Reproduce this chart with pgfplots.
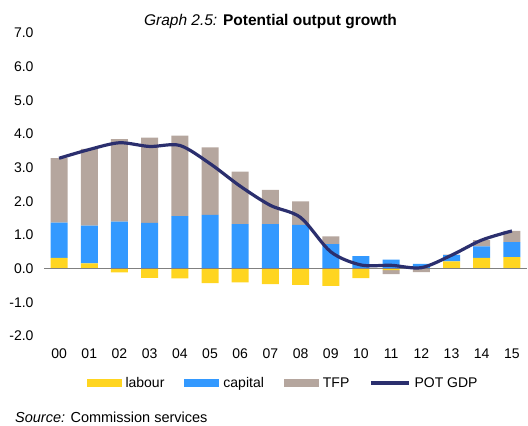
\documentclass[border=0pt]{standalone}
\usepackage{pgfplots}
\pgfplotsset{compat=1.18}
\usepackage{pgfplotstable}
\usepackage{fontspec}
\setmainfont{Liberation Sans}
\definecolor{lab}{RGB}{255,213,32}
\definecolor{cap}{RGB}{51,153,255}
\definecolor{tfp}{RGB}{181,166,158}
\definecolor{pot}{RGB}{43,47,110}
\definecolor{zl}{RGB}{128,128,128}

\pgfplotstableread{
x labour capital tfp pot
0 0.32 1.05 1.91 3.28
1 0.16 1.12 2.28 3.54
2 -0.11 1.40 2.45 3.74
3 -0.27 1.36 2.53 3.63
4 -0.29 1.56 2.39 3.66
5 -0.43 1.60 2.00 3.12
6 -0.41 1.32 1.56 2.45
7 -0.46 1.32 1.02 1.88
8 -0.48 1.30 0.70 1.52
9 -0.51 0.73 0.23 0.50
10 -0.28 0.37 0.00 0.11
11 -0.04 0.27 -0.12 0.10
12 0.00 0.14 -0.10 0.03
13 0.22 0.18 0.02 0.40
14 0.32 0.34 0.19 0.85
15 0.34 0.45 0.33 1.12
}\data

\pgfplotsset{
  base/.style={
    at={(44pt,-336pt)}, anchor=south west,
    scale only axis, width=483pt, height=303pt,
    xmin=-0.5, xmax=15.5, ymin=-2, ymax=7,
  },
  barax/.style={base, ybar stacked, bar width=17pt},
  swatch/.style={legend image code/.code={\fill[##1] (0pt,-4pt) rectangle (35pt,4pt);}},
  linesw/.style={legend image code/.code={\draw[##1] (0pt,0pt) -- (38pt,0pt);}},
}

\begin{document}
\begin{tikzpicture}
\path[use as bounding box] (0pt,0pt) rectangle (528pt,-426pt);

% positive parts + ticks
\begin{axis}[barax,
  axis line style={draw=none},
  major tick length=0pt,
  xtick={0,...,15},
  xticklabels={00,01,02,03,04,05,06,07,08,09,10,11,12,13,14,15},
  ytick={-2,...,7},
  yticklabels={-2.0,-1.0,0.0,1.0,2.0,3.0,4.0,5.0,6.0,7.0},
  ticklabel style={font=\fontsize{14}{16}\selectfont},
  xticklabel style={yshift=-9.3pt},
  yticklabel style={xshift=-7pt},
]
\addplot[fill=lab, draw=none] table[x=x, y expr={max(\thisrow{labour},0)}] {\data};
\addplot[fill=cap, draw=none] table[x=x, y expr={max(\thisrow{capital},0)}] {\data};
\addplot[fill=tfp, draw=none] table[x=x, y expr={max(\thisrow{tfp},0)}] {\data};
\end{axis}

% negative parts
\begin{axis}[barax, hide axis]
\addplot[fill=lab, draw=none] table[x=x, y expr={min(\thisrow{labour},0)}] {\data};
\addplot[fill=cap, draw=none] table[x=x, y expr={min(\thisrow{capital},0)}] {\data};
\addplot[fill=tfp, draw=none] table[x=x, y expr={min(\thisrow{tfp},0)}] {\data};
\end{axis}

% zero line, potential GDP line and legend
\begin{axis}[base, hide axis,
  legend columns=4,
  legend style={draw=none, fill=none, at={(0.497,-0.155)}, anchor=center,
    font=\fontsize{14}{16}\selectfont,
    nodes={inner xsep=4pt},
    /tikz/every even column/.append style={column sep=16pt}},
]
\addplot[zl, line width=1.6pt, forget plot] coordinates {(-0.5,0) (15.5,0)};
\addlegendimage{fill=lab, draw=none, swatch}
\addlegendentry{labour}
\addlegendimage{fill=cap, draw=none, swatch}
\addlegendentry{capital}
\addlegendimage{fill=tfp, draw=none, swatch}
\addlegendentry{TFP}
\addplot[pot, line width=3.2pt, smooth, mark=none, linesw]
  table[x=x, y=pot] {\data};
\addlegendentry{POT GDP}
\end{axis}

\node[font=\fontsize{15.5}{18}\selectfont] at (270.5pt,-22pt)
  {\textit{Graph 2.5:} \textbf{Potential output growth}};
\node[anchor=west, inner sep=0pt, font=\fontsize{14.5}{17}\selectfont] at (15pt,-417.5pt)
  {\textit{Source:} Commission services};
\end{tikzpicture}
\end{document}
